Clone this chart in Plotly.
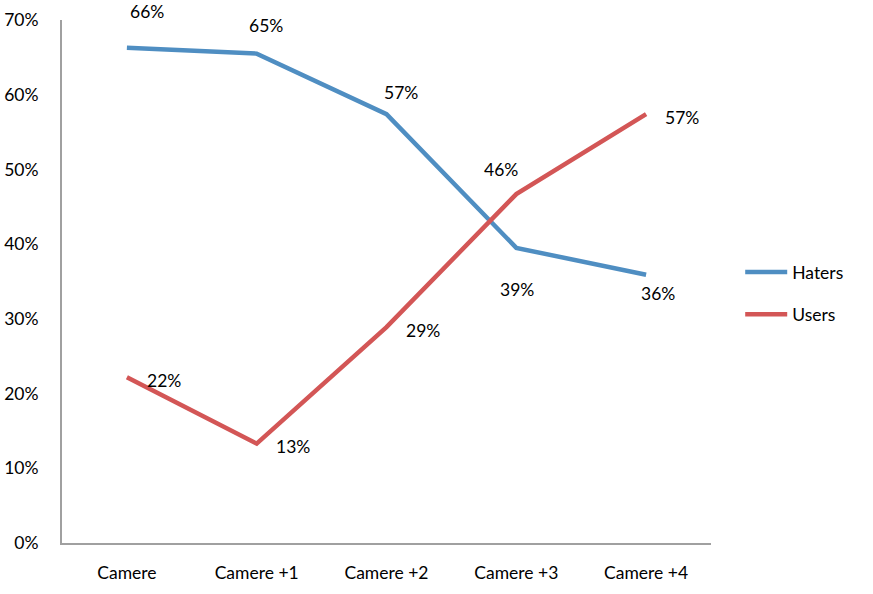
import plotly.graph_objects as go

categories = ["Camere", "Camere +1", "Camere +2", "Camere +3", "Camere +4"]
haters = [66.3, 65.5, 57.4, 39.5, 35.9]
users = [22.2, 13.3, 28.9, 46.7, 57.4]
haters_labels = ["66%", "65%", "57%", "39%", "36%"]
users_labels = ["22%", "13%", "29%", "46%", "57%"]
y_ticks = [0, 10, 20, 30, 40, 50, 60, 70]

# label offsets (styling only), in px: (dx, dy) with dy positive = up
haters_off = [(20, 36), (9, 28), (14, 22), (1, -42), (12, -19)]
users_off = [(37, -3), (36, -3), (36, -3), (-15, 25), (36, -3)]

FONT = "Lato, 'Noto Sans', sans-serif"
FS = 17.5
BLUE = "#4F8EC2"
RED = "#D35656"

fig = go.Figure()
fig.add_trace(go.Scatter(x=categories, y=haters, mode="lines", name="Haters",
                         line=dict(color=BLUE, width=4.5), legend="legend", showlegend=True))
fig.add_trace(go.Scatter(x=categories, y=users, mode="lines", name="Users",
                         line=dict(color=RED, width=4.5), legend="legend2", showlegend=True))

for vals, labs, offs in [(haters, haters_labels, haters_off), (users, users_labels, users_off)]:
    for c, v, t, (dx, dy) in zip(categories, vals, labs, offs):
        fig.add_annotation(x=c, y=v, text=t, showarrow=False, xshift=dx, yshift=dy,
                           font=dict(family=FONT, size=FS, color="#000"))

fig.update_layout(
    width=873, height=594,
    margin=dict(l=62, r=162, t=20, b=51, autoexpand=False),
    paper_bgcolor="white", plot_bgcolor="white",
    font=dict(family=FONT, size=FS, color="#000"),
    showlegend=True,
    legend=dict(x=1.045, y=0.518, xanchor="left", yanchor="middle", itemwidth=42,
                font=dict(family=FONT, size=FS), bgcolor="rgba(0,0,0,0)"),
    legend2=dict(x=1.045, y=0.437, xanchor="left", yanchor="middle", itemwidth=42,
                 font=dict(family=FONT, size=FS), bgcolor="rgba(0,0,0,0)"),
)
fig.update_xaxes(range=[-0.5, 4.5], showline=True, linecolor="#A0A0A0", linewidth=2,
                 showgrid=False, zeroline=False, ticks="", ticklabelstandoff=13,
                 tickfont=dict(family=FONT, size=FS), automargin=False)
fig.update_yaxes(range=[0, 70], tickvals=y_ticks, ticktext=[f"{v}%" for v in y_ticks],
                 showline=True, linecolor="#A0A0A0", linewidth=2,
                 showgrid=False, zeroline=False, ticks="", ticklabelstandoff=18,
                 tickfont=dict(family=FONT, size=FS), automargin=False)

fig.write_html("out.html")
